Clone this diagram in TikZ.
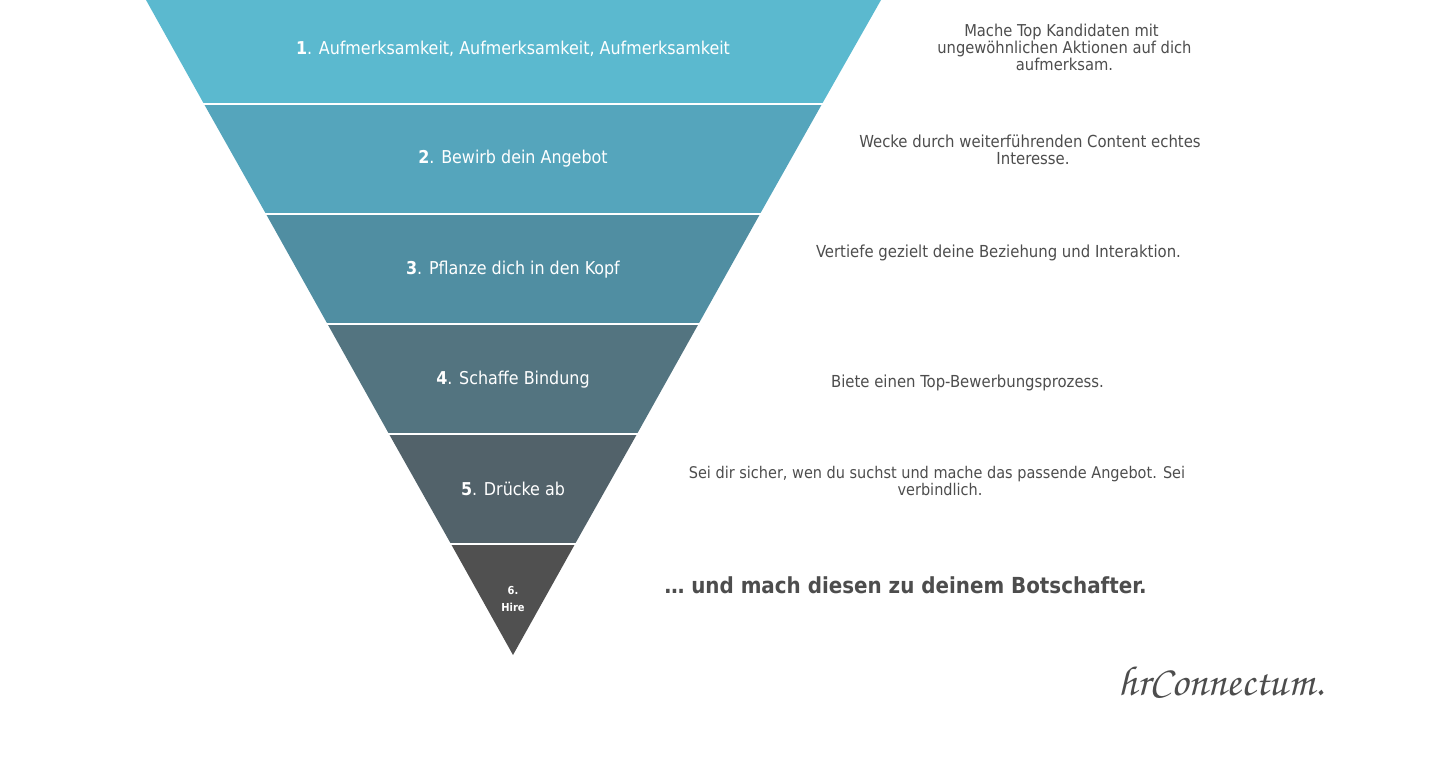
\documentclass[tikz,border=0pt]{standalone}
\usepackage{fontspec}
\setmainfont{DejaVu Sans Condensed}
\usepackage{tikz}
\usetikzlibrary{positioning}
\definecolor{bandA}{HTML}{5BB9CF}
\definecolor{bandB}{HTML}{55A5BC}
\definecolor{bandC}{HTML}{508EA2}
\definecolor{bandD}{HTML}{537480}
\definecolor{bandE}{HTML}{52626A}
\definecolor{bandF}{HTML}{505050}
\definecolor{greytext}{HTML}{4D4D4D}
\tikzset{
  bandlabel/.style={text=white,align=center,font=\fontsize{17.7}{19}\selectfont},
  sidelabel/.style={text=greytext,align=center,font=\fontsize{16.1}{17}\selectfont},
  sidewide/.style={sidelabel,font=\fontsize{16.55}{17}\selectfont},
  cutline/.style={white,line width=2pt}
}
\begin{document}
\begin{tikzpicture}[x=1pt,y=-1pt]
\useasboundingbox (0,0) rectangle (1440,770);
% funnel bands, top to bottom
\fill[bandA] (146,0) -- (881,0) -- (822,104) -- (204,104) -- cycle;
\fill[bandB] (204,104) -- (822,104) -- (760,214) -- (266,214) -- cycle;
\fill[bandC] (266,214) -- (760,214) -- (698.5,324) -- (327.5,324) -- cycle;
\fill[bandD] (327.5,324) -- (698.5,324) -- (637,434) -- (389,434) -- cycle;
\fill[bandE] (389,434) -- (637,434) -- (575,544) -- (451,544) -- cycle;
\fill[bandF] (451,544) -- (575,544) -- (513,655) -- cycle;
\foreach \y in {104,214,324,434,544} {
\draw[cutline] (100,\y) -- (900,\y);
}
\node[bandlabel] (one) at (513,48.5) {\textbf{1}. Aufmerksamkeit, Aufmerksamkeit, Aufmerksamkeit};
\node[bandlabel] (two) at (513,158.5) {\textbf{2}. Bewirb dein Angebot};
\node[bandlabel] (three) at (513,269.5) {\textbf{3}. Pflanze dich in den Kopf};
\node[bandlabel] (four) at (513,379.5) {\textbf{4}. Schaffe Bindung};
\node[bandlabel] (five) at (513,489) {\textbf{5}. Drücke ab};
\node[text=white,align=center,font=\fontsize{11}{17}\selectfont\bfseries] (six) at (513,599) {6.\\Hire};
% texts on the right
\node[sidelabel,font=\fontsize{16.35}{17}\selectfont] (sideone) at (1064.5,47) {Mache Top Kandidaten mit\hspace*{6pt}\\ungewöhnlichen Aktionen auf dich\\aufmerksam.};
\node[sidewide] (sidetwo) at (1033,150) {Wecke durch weiterführenden Content echtes\hspace*{6pt}\\Interesse.};
\node[sidewide] (sidethree) at (998.5,252.5) {Vertiefe gezielt deine Beziehung und Interaktion.};
\node[sidewide] (sidefour) at (967.5,382.5) {Biete einen Top-Bewerbungsprozess.};
\node[sidelabel] (sidefive) at (940,480.5) {Sei dir sicher, wen du suchst und mache das passende Angebot. Sei\hspace*{6pt}\\verbindlich.};
\node[text=greytext,font=\fontsize{22.1}{24}\selectfont\bfseries] (sidesix) at (905.5,585) {… und mach diesen zu deinem Botschafter.};
\node[text=greytext,font=\fontsize{42}{44}\usefont{OT1}{pzc}{mb}{it}] (logo) at (1221,681) {hrConnectum.};
\end{tikzpicture}
\end{document}
